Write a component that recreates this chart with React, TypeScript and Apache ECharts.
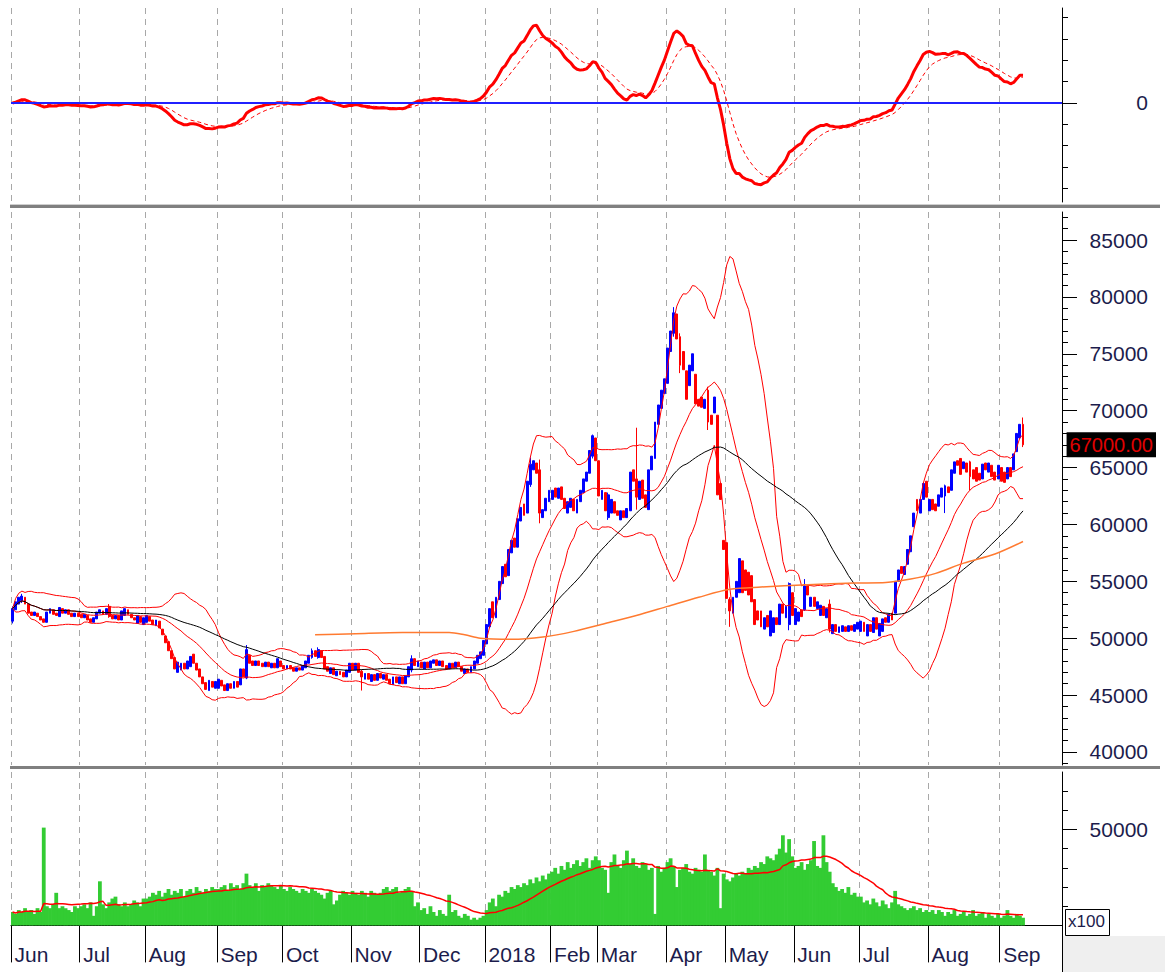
import React, { useEffect, useRef } from "react";
import * as echarts from "echarts";

// ---------- DATA ----------
const monthLabels = ["Jun", "Jul", "Aug", "Sep", "Oct", "Nov", "Dec", "2018", "Feb", "Mar", "Apr", "May", "Jun", "Jul", "Aug", "Sep"];
const tradingDays = [22, 21, 23, 21, 22, 22, 21, 21, 15, 22, 19, 22, 21, 22, 23, 8];
const emptySlots = 12;

// daily candles in thousands: [open, close] or [open, close, low, high]
const jun2017 = [[51.5,52.6,51.3,52.8],[52.5,53.2],[53.0,53.6],[53.3,53.7,53.1,53.9],[53.6,53.0],[53.0,52.2],[52.3,52.0],[52.0,52.3],[52.2,51.9],[51.9,51.6],[51.7,51.4],[51.4,52.3],[52.2,52.6],[52.5,52.1],[52.2,52.0],[51.9,52.7],[52.6,52.2],[52.2,52.5],[52.5,52.1],[52.2,51.9],[51.9,52.2],[52.2,51.9]];
const jul2017 = [[52.1,51.8],[51.8,52.1],[52.0,51.6],[51.7,51.4],[51.4,51.8],[51.7,52.3],[52.2,52.5],[52.4,52.1],[52.1,52.6],[52.8,51.9,51.8,53.0],[52.0,51.7],[51.7,52.0],[52.0,51.6],[51.6,52.4],[52.0,52.6],[52.5,52.1],[52.1,51.8],[51.8,51.6],[51.3,52.0],[51.9,51.4],[51.2,51.8]];
const aug2017 = [[51.4,52.0],[51.9,51.5],[51.6,51.2],[51.1,51.6],[51.5,50.9],[50.8,50.3],[50.2,49.6],[49.7,48.9],[48.9,48.2],[48.3,47.3],[47.0,47.9],[47.2,47.8],[47.8,47.3],[47.3,48.0],[47.5,48.4],[48.6,47.8],[47.8,47.2],[47.3,46.6],[46.6,46.0],[46.1,45.5],[45.4,46.3],[46.2,45.7],[45.6,46.2]];
const sep2017 = [[45.6,46.4],[46.3,45.8],[45.9,45.4],[45.4,46.0],[46.0,45.6],[45.6,46.2],[46.2,45.7],[45.9,47.3],[47.3,46.6],[46.5,49.0,46.4,49.4],[48.5,47.8],[48.0,47.6],[47.6,48.0],[48.0,47.6],[47.8,47.5],[47.5,47.9],[47.9,47.5],[47.4,47.8],[47.8,47.4],[47.4,48.2],[48.0,47.5]];
const oct2017 = [[47.6,47.3],[47.3,47.6],[47.6,47.3],[47.4,47.1],[47.1,47.4],[47.4,47.2],[47.2,47.6],[47.4,48.0],[47.8,48.5],[48.3,48.9,48.2,49.1],[48.9,48.4],[48.3,49.0,48.2,49.2],[48.9,48.3],[48.4,47.3],[47.5,47.1],[46.9,47.4],[47.4,46.8],[46.7,47.1],[47.1,46.8],[47.0,46.6],[46.6,47.2],[47.0,47.8]];
const nov2017 = [[47.8,47.2],[47.2,47.8],[47.8,47.0],[47.1,46.6,45.4,47.2],[46.4,46.9],[46.9,46.4],[46.2,46.8],[46.8,46.3],[46.3,46.9],[46.9,46.5],[46.4,46.8],[46.8,46.3],[46.4,46.0],[45.9,46.6],[46.6,46.1],[46.0,46.6],[46.6,46.0],[46.0,46.7],[46.6,47.5],[47.2,48.2,47.0,48.5],[48.2,47.6],[47.5,48.0]];
const dec2017 = [[47.9,47.4],[47.3,47.9],[47.9,47.4],[47.4,48.0],[47.8,48.1],[48.1,47.6],[47.6,48.0],[48.0,47.5],[47.6,47.3],[47.3,47.8],[47.8,47.4],[47.4,47.9],[47.9,47.5],[47.5,47.1],[46.9,47.3],[47.3,47.0],[47.0,47.5],[47.3,48.0],[47.8,48.5],[48.2,48.8],[48.5,49.8]];
const jan2018 = [[49.5,51.2],[51.0,52.6],[53.2,51.8],[51.8,53.6],[53.4,55.0],[54.8,56.3],[56.5,55.4],[55.5,57.8],[57.5,58.6],[58.8,58.0],[58.0,60.5],[60.3,61.5],[61.8,60.8],[61.0,63.8],[63.5,65.3,63.3,65.9],[64.8,65.6],[65.4,64.5],[64.8,61.0,60.1,65.7],[60.6,61.3],[61.2,62.3],[62.0,63.0]];
const feb2018 = [[62.2,63.0],[63.2,62.4],[62.3,63.2],[63.3,62.2],[62.3,61.4],[61.0,62.0],[61.5,62.3],[62.2,61.2],[61.0,62.2],[62.0,63.0],[62.8,64.0],[63.8,64.6],[64.5,66.5],[66.0,67.8,65.8,67.9],[67.6,65.6]];
const mar2018 = [[65.6,62.5],[62.2,63.0],[62.8,61.2],[60.6,62.6,60.4,62.8],[61.0,62.2],[62.0,61.0],[61.2,60.8],[60.4,61.2],[61.2,60.6],[60.6,61.4],[61.2,64.6],[64.8,63.8],[64.0,62.4,61.3,68.5],[62.2,63.8],[63.9,62.3],[62.6,61.5],[61.3,64.8],[64.8,66.0],[65.8,69.0],[68.8,70.5],[70.2,71.8],[71.5,72.8]];
const apr2018 = [[72.4,75.5],[75.2,77.0],[76.8,78.6,76.5,79.1],[78.5,76.3],[76.5,74.0,73.3,76.8],[75.2,73.6],[73.5,71.0],[72.2,74.0],[73.5,75.0],[73.2,70.6],[71.0,70.4],[71.2,70.3],[70.2,71.0],[71.8,69.0,68.3,72.1],[69.6,68.8],[69.8,71.2],[69.6,62.6],[63.6,62.2],[58.6,57.8]];
const may2018 = [[58.4,53.5],[53.4,52.4,51.0,53.6],[52.2,53.6],[53.6,55.0],[54.0,57.0],[56.8,54.0],[56.0,54.2],[55.8,53.8],[55.5,53.2],[53.4,51.2],[52.4,51.6],[52.4,51.0],[50.8,51.8],[52.0,51.0],[50.2,52.4],[50.5,51.8],[51.8,51.2],[51.2,53.0],[53.0,52.2],[51.8,52.8],[51.2,54.8,50.7,54.9],[54.0,52.0]];
const jun2018 = [[51.2,52.6],[51.5,52.3],[52.5,51.9],[52.5,54.6,52.4,55.2],[54.6,53.8],[52.8,53.6],[53.6,52.8],[52.6,53.2],[52.0,52.9],[52.8,52.0],[51.8,52.6],[53.0,50.8,50.5,53.4],[50.4,51.2],[51.2,50.6],[50.5,51.0],[50.6,51.1],[51.0,50.6],[50.6,51.1],[51.1,50.7],[50.6,51.2],[50.8,51.4]];
const jul2018 = [[50.6,51.5],[51.4,50.6],[50.2,51.2],[51.2,50.6],[50.5,51.8],[51.8,50.8],[50.2,51.3],[50.6,51.7],[51.8,51.4],[51.4,52.1],[52.2,51.6],[52.2,55.0],[55.0,56.0],[56.3,55.7],[55.6,56.3],[56.5,57.8],[57.6,59.0],[59.8,61.0],[62.2,61.2],[61.0,62.2],[62.2,63.6],[63.8,62.4]];
const aug2018 = [[61.2,62.2],[62.2,61.3],[61.8,61.2],[61.6,62.6],[62.4,63.2],[62.5,63.4,61.0,63.5],[63.3,62.8],[63.0,64.8],[64.5,65.5],[65.6,65.2],[65.8,64.4],[64.9,65.5],[65.4,64.6],[65.5,64.2,63.0,65.6],[64.8,64.0],[65.0,63.8],[64.5,63.9],[64.0,65.3],[65.4,64.8],[64.6,65.4],[65.2,64.2],[64.6,63.9],[64.0,65.2]];
const sep2018 = [[65.0,63.8],[64.6,63.7],[64.0,65.0],[65.0,64.2],[64.8,66.2],[66.4,68.0],[67.6,68.8],[68.8,67.0,66.8,69.4]];

// daily volume, thousands (axis shows x100)
const volJun2017 = [7,6,8,7,9,7,8,6,9,7,51,10,9,11,17,9,10,9,8,7,10,9];
const volJul2017 = [10,11,9,12,5,10,23,11,9,12,14,15,11,10,12,10,11,13,12,10,14];
const volAug2017 = [14,15,17,16,18,15,17,19,16,18,17,19,15,18,19,17,20,18,17,19,18,20,19];
const volSep2017 = [19,20,21,18,22,20,21,19,22,27,21,20,22,18,21,20,22,21,20,19,21];
const volOct2017 = [19,18,20,19,18,17,19,18,17,19,18,17,16,14,17,18,11,13,16,18,17,16];
const volNov2017 = [18,17,16,18,17,15,18,17,16,17,19,20,18,19,20,17,18,19,20,18,10,12];
const volDec2017 = [8,9,6,10,7,5,8,6,5,16,7,8,5,4,6,5,3,4,3,4,5];
const volJan2018 = [8,12,14,10,16,15,18,17,20,19,21,20,22,21,24,22,25,23,26,24,27];
const volFeb2018 = [28,30,27,31,29,33,30,32,34,31,33,35,30,34,36];
const volMar2018 = [34,30,29,17,33,37,31,30,34,39,32,35,31,30,33,32,29,30,6,31,28,30];
const volApr2018 = [33,35,31,20,29,30,32,28,27,30,29,28,37,29,28,26,30,9,27];
const volMay2018 = [24,23,25,27,26,28,27,30,29,31,30,33,32,36,35,34,37,40,47,38,45,36];
const volJun2018 = [30,31,33,29,32,34,44,31,30,47,33,28,22,20,18,19,17,20,16,17,15];
const volJul2018 = [15,12,13,11,14,12,10,13,11,9,12,18,11,10,9,8,9,10,8,9,7,8];
const volAug2018 = [7,8,6,8,7,5,7,6,8,5,6,7,5,6,8,5,6,7,4,6,5,4,6];
const volSep2018 = [4,5,8,5,4,6,5,4];

// 200-day moving average: [bar index, thousands]
const ma200Points = [[97,50.3],[110,50.4],[125,50.5],[140,50.5],[145,50.3],[150,50.0],[160,49.9],[170,50.1],[180,50.6],[190,51.3],[200,52.0],[210,52.8],[220,53.6],[230,54.3],[240,54.5],[255,54.7],[270,54.85],[280,54.9],[288,55.2],[296,55.7],[305,56.6],[315,57.4],[324,58.5]];

const candleMonths = [jun2017, jul2017, aug2017, sep2017, oct2017, nov2017, dec2017, jan2018, feb2018, mar2018, apr2018, may2018, jun2018, jul2018, aug2018, sep2018];
const volumeMonths = [volJun2017, volJul2017, volAug2017, volSep2017, volOct2017, volNov2017, volDec2017, volJan2018, volFeb2018, volMar2018, volApr2018, volMay2018, volJun2018, volJul2018, volAug2018, volSep2018];

const priceMajorTicks = [40000, 45000, 50000, 55000, 60000, 65000, 70000, 75000, 80000, 85000];
const volumeLabelTicks = [50000];

// ---------- helpers ----------
function sma(v: number[], p: number): number[] {
  return v.map((_, i) => {
    const s = v.slice(Math.max(0, i - p + 1), i + 1);
    return s.reduce((a, b) => a + b, 0) / s.length;
  });
}
function sdev(v: number[], p: number): number[] {
  return v.map((_, i) => {
    const s = v.slice(Math.max(0, i - p + 1), i + 1);
    const m = s.reduce((a, b) => a + b, 0) / s.length;
    return Math.sqrt(s.reduce((a, b) => a + (b - m) * (b - m), 0) / s.length);
  });
}
function ema(v: number[], p: number): number[] {
  const k = 2 / (p + 1);
  const out: number[] = [];
  v.forEach((x, i) => out.push(i === 0 ? x : x * k + out[i - 1] * (1 - k)));
  return out;
}

const FONT = "'Liberation Sans', Arial, sans-serif";
const TXT = "#1c1c4c";

export default function App() {
  const ref = useRef<HTMLDivElement>(null);
  useEffect(() => {
    const chart = echarts.init(ref.current!, null, { renderer: "svg" });

    const categories: string[] = [];
    const monthStart = new Set<number>();
    const labelAt = new Map<number, string>();
    tradingDays.forEach((n, m) => {
      monthStart.add(categories.length);
      labelAt.set(categories.length, monthLabels[m]);
      for (let d = 0; d < n; d++) categories.push(`${m}-${d}`);
    });
    for (let k = 0; k < emptySlots; k++) categories.push(`e-${k}`);

    const candles = candleMonths.flat().map((b: number[]) => {
      const o = b[0] * 1000, c = b[1] * 1000;
      const l = (b[2] ?? Math.min(b[0], b[1])) * 1000;
      const h = (b[3] ?? Math.max(b[0], b[1])) * 1000;
      return [o, c, l, h];
    });
    const closes = candles.map((c) => c[1]);
    const volumes = volumeMonths.flat().map((v) => v * 1000);

    const mid = sma(closes, 20);
    const sd = sdev(closes, 20);
    const upper = mid.map((m, i) => m + 2 * sd[i]);
    const lower = mid.map((m, i) => m - 2 * sd[i]);
    const ma50 = sma(closes, 50);
    const volMa = sma(volumes, 20);
    const e12 = ema(closes, 12), e26 = ema(closes, 26);
    const macd = e12.map((x, i) => x - e26[i]);
    const signal = ema(macd, 9);
    const maxAbs = Math.max(...macd.map(Math.abs));
    const u = maxAbs / 3.82;
    const macdTicks = [-4, -3, -2, -1, 1, 2, 3, 4].map((k) => k * u);
    const lastClose = closes[closes.length - 1];

    const priceMinor: number[] = [];
    for (let v = 39000; v <= 87000; v += 1000) priceMinor.push(v);
    const volMinor = [10000, 20000, 30000, 40000, 60000, 70000];

    const splitLine = {
      show: true,
      interval: (i: number) => monthStart.has(i),
      lineStyle: { color: "#a8a8a8", width: 1, type: [6, 5] as any },
    };
    const hiddenX = (g: number) => ({
      type: "category", gridIndex: g, data: categories, boundaryGap: true,
      axisLine: { show: false }, axisTick: { show: false }, axisLabel: { show: false },
      splitLine,
    });
    const axisLine = { show: true, lineStyle: { color: "#000", width: 1 } };
    const lbl = { color: TXT, fontSize: 21, fontFamily: FONT, align: "right", margin: 86 };

    const option: any = {
      animation: false,
      backgroundColor: "#ffffff",
      textStyle: { fontFamily: FONT },
      grid: [
        { left: 11, top: 8, width: 1051, height: 194 },
        { left: 11, top: 212, width: 1051, height: 553 },
        { left: 11, top: 772, width: 1051, height: 163 },
      ],
      xAxis: [
        hiddenX(0),
        hiddenX(1),
        {
          type: "category", gridIndex: 2, data: categories, boundaryGap: true,
          axisLine: { show: true, lineStyle: { color: "#000", width: 1 } },
          axisTick: { show: true, interval: (i: number) => monthStart.has(i), length: 37, lineStyle: { color: "#000", width: 1 } },
          axisLabel: {
            show: true, interval: (i: number) => monthStart.has(i),
            formatter: (_v: string, i: number) => labelAt.get(i) ?? "",
            align: "left", margin: 9, padding: [0, 0, 0, 2],
            fontSize: 21, color: TXT, fontFamily: FONT,
          },
          splitLine,
        },
      ],
      yAxis: [
        { type: "value", gridIndex: 0, position: "right", min: -4.63 * u, max: 4.44 * u, axisLine,
          axisTick: { show: true, customValues: macdTicks, length: 6, lineStyle: { color: "#000" } },
          axisLabel: { show: false }, splitLine: { show: false } },
        { type: "value", gridIndex: 0, position: "right", min: -4.63 * u, max: 4.44 * u, axisLine: { show: false },
          axisTick: { show: true, customValues: [0], length: 15, lineStyle: { color: "#000" } },
          axisLabel: { ...lbl, customValues: [0], formatter: () => "0" }, splitLine: { show: false } },
        { type: "value", gridIndex: 1, position: "right", min: 38857, max: 87461, axisLine,
          axisTick: { show: true, customValues: priceMinor, length: 6, lineStyle: { color: "#000" } },
          axisLabel: { show: false }, splitLine: { show: false } },
        { type: "value", gridIndex: 1, position: "right", min: 38857, max: 87461, axisLine: { show: false },
          axisTick: { show: true, customValues: priceMajorTicks, length: 15, lineStyle: { color: "#000" } },
          axisLabel: { ...lbl, customValues: priceMajorTicks, formatter: (v: number) => String(Math.round(v)) },
          splitLine: { show: false } },
        { type: "value", gridIndex: 1, position: "right", min: 38857, max: 87461, axisLine: { show: false },
          axisTick: { show: false },
          axisLabel: { show: true, customValues: [lastClose], formatter: (v: number) => v.toFixed(2),
            color: "#e00000", backgroundColor: "#000", padding: [3, 3, 2, 3], fontSize: 20, fontFamily: FONT,
            align: "right", margin: 94 },
          splitLine: { show: false } },
        { type: "value", gridIndex: 2, position: "right", min: -5000, max: 80000, axisLine,
          axisTick: { show: true, customValues: volMinor, length: 6, lineStyle: { color: "#000" } },
          axisLabel: { show: false }, splitLine: { show: false } },
        { type: "value", gridIndex: 2, position: "right", min: -5000, max: 80000, axisLine: { show: false },
          axisTick: { show: true, customValues: volumeLabelTicks, length: 15, lineStyle: { color: "#000" } },
          axisLabel: { ...lbl, customValues: volumeLabelTicks, formatter: (v: number) => String(v) },
          splitLine: { show: false } },
      ],
      series: [
        { name: "MACD", type: "line", xAxisIndex: 0, yAxisIndex: 0, data: macd, showSymbol: false,
          lineStyle: { color: "#ff0000", width: 3 },
          markLine: { silent: true, symbol: "none", label: { show: false },
            lineStyle: { color: "#2020ff", width: 2, type: "solid" }, data: [{ yAxis: 0 }] } },
        { name: "Signal", type: "line", xAxisIndex: 0, yAxisIndex: 0, data: signal, showSymbol: false,
          lineStyle: { color: "#ff0000", width: 1, type: [4, 3] } },
        { name: "Price", type: "candlestick", xAxisIndex: 1, yAxisIndex: 2, data: candles, barWidth: 2.4,
          itemStyle: { color: "#0000ff", color0: "#ff0000", borderColor: "#0000ff", borderColor0: "#ff0000", borderWidth: 1 } },
        { name: "BB upper", type: "line", xAxisIndex: 1, yAxisIndex: 2, data: upper, showSymbol: false, lineStyle: { color: "#ff0000", width: 1 } },
        { name: "BB mid", type: "line", xAxisIndex: 1, yAxisIndex: 2, data: mid, showSymbol: false, lineStyle: { color: "#ff0000", width: 1 } },
        { name: "BB lower", type: "line", xAxisIndex: 1, yAxisIndex: 2, data: lower, showSymbol: false, lineStyle: { color: "#ff0000", width: 1 } },
        { name: "MA50", type: "line", xAxisIndex: 1, yAxisIndex: 2, data: ma50, showSymbol: false, lineStyle: { color: "#000000", width: 1 } },
        { name: "MA200", type: "line", xAxisIndex: 1, yAxisIndex: 2, data: ma200Points.map(([i, v]) => [i, v * 1000]),
          showSymbol: false, smooth: 0.3, lineStyle: { color: "#ff7a30", width: 1.5 } },
        { name: "Volume", type: "bar", xAxisIndex: 2, yAxisIndex: 5, data: volumes, barWidth: 3.8,
          itemStyle: { color: "#33cc33" } },
        { name: "Vol MA", type: "line", xAxisIndex: 2, yAxisIndex: 5, data: volMa, showSymbol: false,
          lineStyle: { color: "#ff0000", width: 1.5 } },
      ],
      graphic: [
        { type: "rect", silent: true, shape: { x: 10, y: 204, width: 1150, height: 1 }, style: { fill: "#cfcfcf" } },
        { type: "rect", silent: true, shape: { x: 10, y: 205, width: 1150, height: 3 }, style: { fill: "#808080" } },
        { type: "rect", silent: true, shape: { x: 10, y: 766, width: 1150, height: 3 }, style: { fill: "#808080" } },
        { type: "rect", silent: true, shape: { x: 1063, y: 936, width: 102, height: 36 }, style: { fill: "#efefef" } },
        { type: "line", silent: true, shape: { x1: 1062.5, y1: 935, x2: 1062.5, y2: 972 }, style: { stroke: "#000", lineWidth: 1 } },
        { type: "rect", silent: true, shape: { x: 1065.5, y: 909.5, width: 44, height: 26 }, style: { fill: "#fff", stroke: "#000", lineWidth: 1 } },
        { type: "text", silent: true, x: 1068, y: 913, style: { text: "x100", fontSize: 17, fill: TXT, fontFamily: FONT } },
      ],
    };
    chart.setOption(option);
    return () => chart.dispose();
  }, []);
  return <div ref={ref} style={{ position: "fixed", left: 0, top: 0, width: 1165, height: 972, background: "#fff" }} />;
}
